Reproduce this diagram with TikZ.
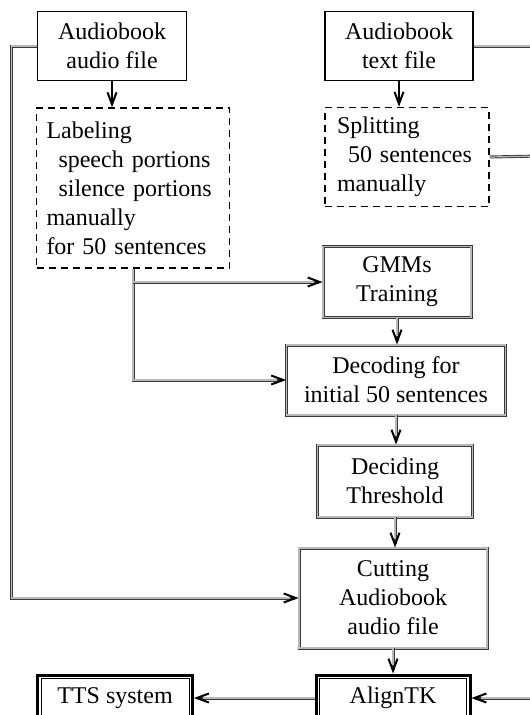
\documentclass[tikz,border=0pt]{standalone}
\usepackage{fontspec}
\setmainfont{Liberation Serif}
\usetikzlibrary{arrows.meta,positioning}

\begin{document}
\begin{tikzpicture}[
        x=1pt, y=-1pt,
        every node/.style={font=\fontsize{24}{29}\selectfont},
        plain/.style={draw, line width=1.5pt, align=center},
        dashbox/.style={draw, line width=1.5pt, dash pattern=on 7pt off 5pt, align=left},
        proc/.style={draw=gray!45!black, double=gray!55, line width=0.9pt, double distance=1.2pt, align=center},
        outbox/.style={draw, line width=3pt, align=center},
        arr/.style={-{Straight Barb[length=12pt,width=9pt,line width=2pt]}, line width=1.5pt},
        link/.style={draw=gray!45!black, line width=3pt,
            postaction={draw=gray!55, line width=1.2pt, -, shorten >=9pt}},
        tip/.style={-{Straight Barb[length=12pt,width=9pt,line width=2pt,black]}},
    ]
    \useasboundingbox (0,0) rectangle (530,715);
    \clip (0,0) rectangle (530,715);

    % Input files
    \node[plain, minimum width=149pt, minimum height=69pt] (audio) at (112,46) {Audiobook\\audio file};
    \node[plain, minimum width=148pt, minimum height=69pt] (text) at (399,46) {Audiobook\\text file};

    % Manual preparation
    \node[dashbox, text width=173pt, inner xsep=10pt, minimum height=160pt] (label) at (133,188)
        {Labeling\\\hspace*{12pt}speech portions\\\hspace*{12pt}silence portions\\manually\\for 50 sentences};
    \node[dashbox, text width=140pt, inner xsep=12pt, minimum height=99pt] (split) at (407,157)
        {Splitting\\\hspace*{11pt}50 sentences\\manually};

    % Processing chain
    \node[proc, minimum width=148pt, minimum height=71pt] (gmm) at (397,282) {GMMs\\Training};
    \node[proc, minimum width=219pt, minimum height=70pt] (decode) at (396,380) {Decoding for\\initial 50 sentences};
    \node[proc, minimum width=155pt, minimum height=72pt] (decide) at (395,481) {Deciding\\Threshold};
    \node[proc, minimum width=188pt, minimum height=100pt] (cut) at (393,598) {Cutting\\Audiobook\\audio file};

    % Outputs (bottom cut off)
    \node[outbox, minimum width=154pt, minimum height=46pt] (align) at (393,698) {AlignTK};
    \node[outbox, minimum width=155pt, minimum height=46pt] (tts) at (115,698) {TTS system};
    \foreach \n in {align,tts} {
        \draw[line width=1pt] ([shift={(5pt,-5pt)}]\n.north west) rectangle ([shift={(-5pt,5pt)}]\n.south east);
    }

    % Free ends on the right border
    \coordinate (r1) at (540,46);
    \coordinate (r2) at (540,156);
    \coordinate (r3) at (540,698);

    % Connectors
    \draw[arr] (audio.south) -- (label.north -| audio.south);
    \draw[arr] (text.south) -- (split.north -| text.south);

    \draw[link] (text.east) -- (r1);
    \draw[link] (split.east) -- (r2);
    \draw[link, tip] (audio.west) -- ++(-25,0) |- (cut.west);
    \draw[link, tip] (label.south) |- (decode.west);
    \draw[link, tip] (label.south |- gmm.west) -- (gmm.west);
    \draw[link, tip] (gmm.south) -- (decode.north -| gmm.south);
    \draw[link, tip] (decode.south) -- (decide.north -| decode.south);
    \draw[link, tip] (decide.south) -- (cut.north -| decide.south);
    \draw[link, tip] (cut.south) -- (align.north -| cut.south);
    \draw[link, tip] (align.west) -- (tts.east);
    \draw[link, tip] (r3) -- (align.east);
\end{tikzpicture}
\end{document}
